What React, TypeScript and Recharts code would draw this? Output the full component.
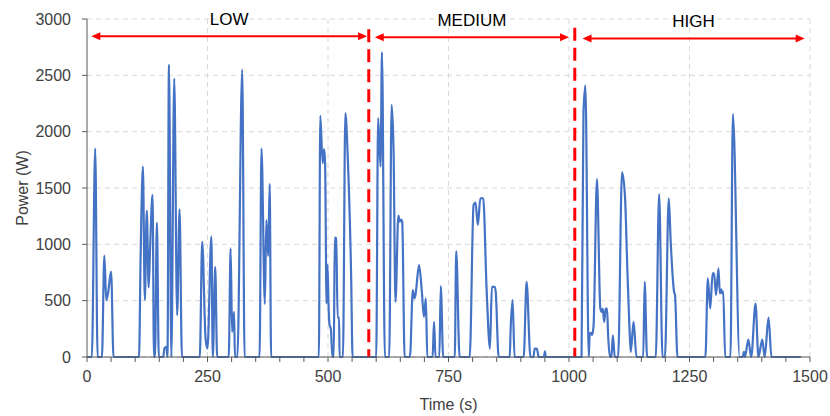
import { LineChart, Line, XAxis, YAxis, CartesianGrid, ReferenceLine } from "recharts";

// power trace, split by driving regime
const lowTime = [0, 10, 17, 22, 31, 36, 40, 43, 50, 55, 108, 111, 116, 120, 124, 128, 131, 136, 139, 141, 145, 149, 158, 161, 165, 167, 170, 175, 181, 187, 192, 197, 234, 239, 246, 250, 258, 261, 266, 270, 294, 298, 301, 305, 307, 312, 322, 327, 358, 362, 369, 372, 376, 379, 382, 481, 484, 489, 492, 494, 497, 499, 501, 503, 506, 509, 512, 514, 517, 520, 523, 524, 531, 536, 541, 548, 551, 584];
const lowPower = [0, 0, 1850, 0, 0, 900, 505, 550, 757, 0, 0, 830, 1690, 505, 1300, 617, 980, 1440, 0, 0, 1190, 0, 0, 80, 90, 0, 2595, 0, 2470, 371, 1311, 0, 0, 1023, 164, 75, 1068, 0, 800, 0, 0, 964, 222, 400, 0, 0, 2550, 0, 0, 1850, 470, 1216, 895, 1536, 0, 0, 2140, 1720, 1845, 1720, 475, 816, 480, 290, 250, 0, 0, 1060, 1055, 350, 350, 0, 0, 2165, 1770, 720, 0, 0];

const mediumTime = [600, 604, 609, 612, 618, 627, 632, 636, 640, 646, 649, 652, 654, 659, 670, 676, 679, 681, 689, 695, 699, 703, 706, 717, 720, 723, 731, 734, 739, 763, 766, 773, 794, 802, 806, 811, 816, 822, 829, 836, 840, 846, 848, 854, 877, 879, 883, 887, 906, 912, 920, 926, 929, 933, 935, 937, 948, 950, 952];
const mediumPower = [0, 2121, 1691, 2705, 0, 0, 2240, 1840, 490, 1255, 1202, 1220, 1200, 0, 0, 594, 520, 540, 816, 564, 356, 520, 0, 0, 311, 0, 0, 629, 0, 0, 940, 0, 0, 1350, 1370, 1172, 1409, 1409, 609, 75, 623, 623, 578, 0, 0, 255, 505, 0, 0, 667, 0, 0, 75, 75, 45, 0, 0, 50, 0];

const highTime = [1026, 1030, 1034, 1041, 1043, 1046, 1048, 1051, 1058, 1065, 1068, 1070, 1073, 1076, 1079, 1081, 1085, 1088, 1091, 1095, 1102, 1110, 1116, 1121, 1125, 1128, 1134, 1140, 1154, 1157, 1162, 1180, 1187, 1194, 1199, 1207, 1211, 1218, 1220, 1225, 1283, 1288, 1293, 1298, 1301, 1305, 1310, 1313, 1316, 1318, 1320, 1324, 1335, 1340, 1354, 1360, 1363, 1365, 1372, 1378, 1387, 1393, 1401, 1406, 1414, 1420, 1481];
const highPower = [0, 2165, 2411, 0, 208, 215, 195, 282, 1578, 430, 400, 430, 311, 430, 430, 208, 0, 0, 193, 0, 0, 1640, 1439, 786, 311, 45, 311, 0, 0, 667, 0, 0, 1445, 0, 0, 1409, 1023, 578, 549, 0, 0, 697, 430, 742, 742, 549, 786, 564, 600, 564, 580, 0, 0, 2157, 0, 0, 45, 0, 155, 0, 475, 0, 155, 0, 350, 0, 0];

// regime annotations
const regimeNames = ["LOW", "MEDIUM", "HIGH"];
const regimeStart = [9, 597, 1028];
const regimeEnd = [581, 1000, 1489];
const regimeLevel = [2847, 2838, 2827];
const boundaryTime = [584.6, 1012];
const boundaryTop = [2909, 2922];

const xTicks = Array.from({ length: 31 }, (_, i) => i * 50);
const xGrid = [250, 500, 750, 1000, 1250, 1500];
const yTicks = [0, 500, 1000, 1500, 2000, 2500, 3000];

const data = [
  ...lowTime.map((t, i) => ({ time: t, power: lowPower[i] })),
  ...mediumTime.map((t, i) => ({ time: t, power: mediumPower[i] })),
  ...highTime.map((t, i) => ({ time: t, power: highPower[i] })),
];

const RED = "#FF0000";
const AXIS = "#595959";
const FONT = "'Liberation Sans', Arial, sans-serif";

function RegimeArrow(props: any) {
  const { x1, y1, x2, y2, name } = props;
  const h = 9;
  const w = 4;
  return (
    <g>
      <line x1={x1 + h - 1} y1={y1} x2={x2 - h + 1} y2={y2} stroke={RED} strokeWidth={2} />
      <polygon points={`${x1},${y1} ${x1 + h},${y1 - w} ${x1 + h},${y1 + w}`} fill={RED} />
      <polygon points={`${x2},${y2} ${x2 - h},${y2 - w} ${x2 - h},${y2 + w}`} fill={RED} />
      <text x={(x1 + x2) / 2} y={y1 - 11} textAnchor="middle" fontSize={17} fontFamily={FONT} fill="#000">
        {name}
      </text>
    </g>
  );
}

export default function App() {
  return (
    <div style={{ position: "absolute", left: 0, top: 0, width: 830, height: 416, background: "#fff" }}>
      <LineChart width={830} height={416} data={data} margin={{ top: 19, right: 20, bottom: 0, left: 0 }}>
        <CartesianGrid vertical={false} stroke="#d9d9d9" strokeDasharray="5 4" />
        {xGrid.map((x) => (
          <ReferenceLine key={"g" + x} x={x} stroke="#d9d9d9" strokeDasharray="5 4" />
        ))}
        <XAxis
          dataKey="time"
          type="number"
          domain={[0, 1500]}
          ticks={xTicks}
          interval={0}
          tickFormatter={(v: number) => (v % 250 === 0 ? String(v) : "")}
          height={59}
          stroke={AXIS}
          tickSize={5}
          tickMargin={9}
          tick={{ fill: "#404040", fontSize: 16, fontFamily: FONT }}
          label={{
            content: (p: any) => (
              <text
                x={p.viewBox.x + p.viewBox.width / 2}
                y={410}
                textAnchor="middle"
                fontSize={16}
                fontFamily={FONT}
                fill="#404040"
              >
                Time (s)
              </text>
            ),
          }}
        />
        <YAxis
          type="number"
          domain={[0, 3000]}
          ticks={yTicks}
          width={87}
          stroke={AXIS}
          tickSize={5}
          tickMargin={11}
          tick={{ fill: "#404040", fontSize: 16, fontFamily: FONT }}
          label={{
            content: () => (
              <text
                x={22}
                y={188}
                transform="rotate(-90 22 188)"
                textAnchor="middle"
                dominantBaseline="central"
                fontSize={16}
                fontFamily={FONT}
                fill="#404040"
              >
                Power (W)
              </text>
            ),
          }}
        />
        <Line
          type="monotone"
          dataKey="power"
          stroke="#4472C4"
          strokeWidth={2.2}
          dot={false}
          activeDot={false}
          isAnimationActive={false}
        />
        {boundaryTime.map((t, i) => (
          <ReferenceLine
            key={"b" + i}
            segment={[
              { x: t, y: boundaryTop[i] },
              { x: t, y: 0 },
            ]}
            stroke={RED}
            strokeWidth={3}
            strokeDasharray="13 7"
          />
        ))}
        {regimeNames.map((name, i) => (
          <ReferenceLine
            key={"r" + i}
            segment={[
              { x: regimeStart[i], y: regimeLevel[i] },
              { x: regimeEnd[i], y: regimeLevel[i] },
            ]}
            shape={(p: any) => <RegimeArrow {...p} name={name} />}
          />
        ))}
      </LineChart>
    </div>
  );
}
